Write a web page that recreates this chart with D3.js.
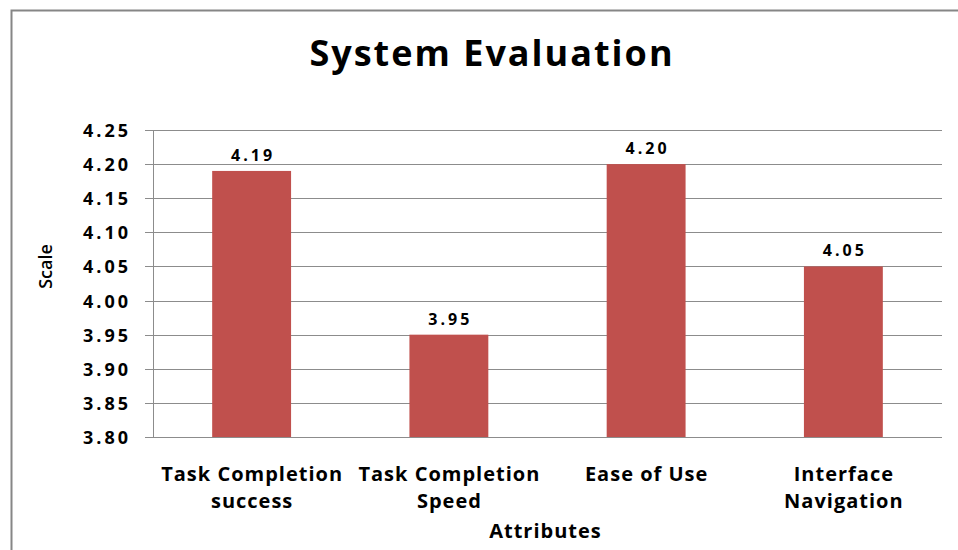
<!DOCTYPE html>
<html>
<head>
<meta charset="utf-8">
<script src="https://cdn.jsdelivr.net/npm/d3@7"></script>
<style>
body { margin:0; background:#fff; }
text { font-family: "Open Sans", sans-serif; font-weight:bold; fill:#000; }
</style>
</head>
<body>
<div id="chart"></div>
<script>
// chart data
var categories = [["Task Completion", "success"], ["Task Completion", "Speed"], ["Ease of Use"], ["Interface", "Navigation"]];
var values = [4.19, 3.95, 4.20, 4.05];
var yTicks = [3.80, 3.85, 3.90, 3.95, 4.00, 4.05, 4.10, 4.15, 4.20, 4.25];

var svgWidth = 958;
var svgHeight = 550;

var margin = {top:130, right:16, bottom:113, left:153};
var chartWidth = svgWidth - margin.left - margin.right;
var chartHeight = svgHeight - margin.top - margin.bottom;

var svg = d3.select("#chart").append("svg")
    .attr("width", svgWidth)
    .attr("height", svgHeight);

// outer border
svg.append("rect")
    .attr("x", 11.5).attr("y", 10.5)
    .attr("width", 960).attr("height", 560)
    .attr("fill", "none")
    .attr("stroke", "#868686")
    .attr("stroke-width", 2);

svg.append("text")
    .attr("x", 492).attr("y", 66)
    .attr("text-anchor", "middle")
    .style("font-size", "36px")
    .style("letter-spacing", "2px")
    .text("System Evaluation");

var chartGroup = svg.append("g")
    .attr("transform", `translate(${margin.left}, ${margin.top})`);

var xScale = d3.scaleBand()
    .domain(d3.range(values.length))
    .range([0, chartWidth])
    .paddingInner(0.6)
    .paddingOuter(0.3);

var yScale = d3.scaleLinear()
    .domain([3.80, 4.25])
    .range([chartHeight, 0]);

// gridlines
chartGroup.append("g")
    .selectAll("line")
    .data(yTicks)
    .enter()
    .append("line")
    .attr("x1", -8).attr("x2", chartWidth)
    .attr("y1", d => Math.round(yScale(d)) + 0.5)
    .attr("y2", d => Math.round(yScale(d)) + 0.5)
    .attr("stroke", "#8c8c8c")
    .attr("stroke-width", 1);

// y axis
var leftAxis = d3.axisLeft(yScale)
    .tickValues(yTicks)
    .tickFormat(d3.format(".2f"))
    .tickSize(0)
    .tickPadding(22);

var yAxis = chartGroup.append("g").call(leftAxis);
yAxis.select(".domain").remove();
yAxis.selectAll("text")
    .style("font-size", "18px")
    .style("letter-spacing", "3px")
    .attr("dy", "0.36em");

chartGroup.append("line")
    .attr("x1", 0.5).attr("x2", 0.5)
    .attr("y1", 0).attr("y2", chartHeight)
    .attr("stroke", "#8c8c8c");

// bars
chartGroup.selectAll("rect.bar")
    .data(values)
    .enter()
    .append("rect")
    .attr("class", "bar")
    .attr("x", (d, i) => xScale(i))
    .attr("y", d => yScale(d))
    .attr("width", xScale.bandwidth())
    .attr("height", d => chartHeight - yScale(d))
    .attr("fill", "#c0504d");

// value labels
chartGroup.selectAll("text.val")
    .data(values)
    .enter()
    .append("text")
    .attr("class", "val")
    .attr("x", (d, i) => xScale(i) + xScale.bandwidth() / 2 + 1.5)
    .attr("y", d => yScale(d) - 10)
    .attr("text-anchor", "middle")
    .style("font-size", "16px")
    .style("letter-spacing", "3px")
    .text(d => d.toFixed(2));

// category labels
var catGroup = chartGroup.selectAll("text.cat")
    .data(categories)
    .enter()
    .append("text")
    .attr("class", "cat")
    .attr("x", (d, i) => xScale(i) + xScale.bandwidth() / 2 + 0.5)
    .attr("y", chartHeight + 44)
    .attr("text-anchor", "middle")
    .style("font-size", "20px")
    .style("letter-spacing", "1px");

catGroup.selectAll("tspan")
    .data(d => d)
    .enter()
    .append("tspan")
    .attr("x", function() { return d3.select(this.parentNode).attr("x"); })
    .attr("dy", (d, i) => i === 0 ? 0 : 27)
    .text(d => d);

// axis titles
chartGroup.append("text")
    .attr("x", chartWidth / 2 - 2)
    .attr("y", chartHeight + 101)
    .attr("text-anchor", "middle")
    .style("font-size", "20px")
    .style("letter-spacing", "1px")
    .text("Attributes");

chartGroup.append("text")
    .attr("transform", "rotate(-90)")
    .attr("x", -(chartHeight / 2) + 17)
    .attr("y", 52 - margin.left)
    .attr("text-anchor", "middle")
    .style("font-size", "18px")
    .style("font-weight", "600")
    .text("Scale");
</script>
</body>
</html>
